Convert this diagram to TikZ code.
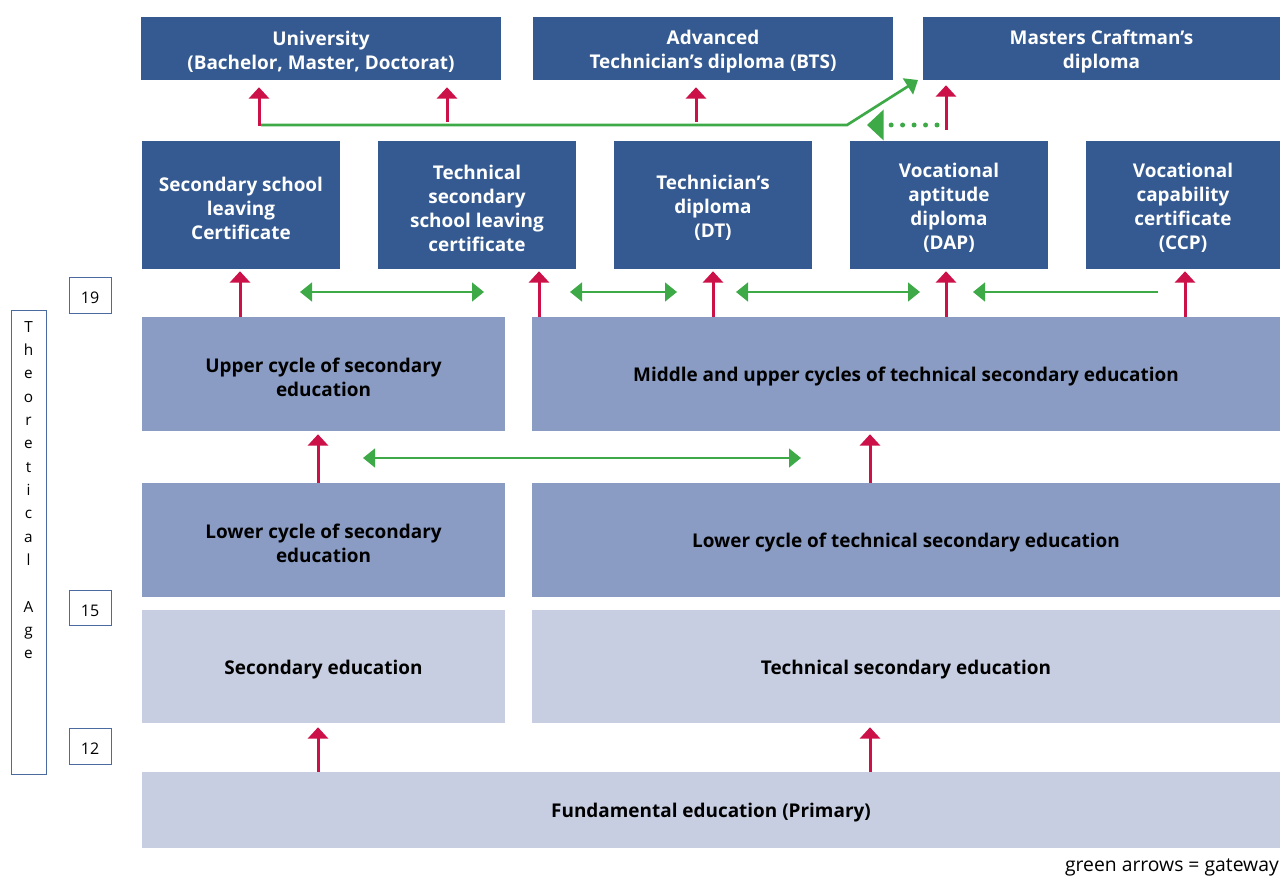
\documentclass[tikz,border=0pt]{standalone}
\usepackage{fontspec}
\setmainfont{Open Sans}
\usetikzlibrary{arrows.meta}
\definecolor{dk}{HTML}{345A91}
\definecolor{md}{HTML}{8A9CC4}
\definecolor{lt}{HTML}{C8CEE2}
\definecolor{rd}{HTML}{CC1048}
\definecolor{gr}{HTML}{3DAA47}
\definecolor{edge}{HTML}{4A6AA0}
% #1 name, #2-#5 corners (px), #6 style, #7 text
\newcommand\bx[7]{\node[#6, minimum width={(#4-#2)*0.75pt}, minimum height={(#5-#3)*0.75pt}] (#1) at ({(#2+#4)/2},{(#3+#5)/2}) {};
 \node[#6 text] (#1-t) at ([yshift=-2.25pt]#1.center) {#7};}
\begin{document}
\begin{tikzpicture}[x=0.75pt,y=-0.75pt,
 base/.style={inner sep=0pt},
 dkbox/.style={base, fill=dk},
 mdbox/.style={base, fill=md},
 ltbox/.style={base, fill=lt},
 basetext/.style={inner sep=0pt, align=center, font=\bfseries\fontsize{14.2}{18}\selectfont},
 dkbox text/.style={basetext, text=white},
 mdbox text/.style={basetext},
 ltbox text/.style={basetext},
 agebox/.style={draw=edge, line width=0.75pt, inner sep=0pt},
 agebox text/.style={inner sep=0pt, font=\fontsize{12}{14}\selectfont},
 up/.style={draw=rd, line width=2.25pt, -{Triangle[width=15pt,length=8.5pt]}},
 gw/.style={draw=gr, line width=2pt, -{Triangle[width=14pt,length=9pt]}},
 gw2/.style={draw=gr, line width=2pt, {Triangle[width=14pt,length=9pt]}-{Triangle[width=14pt,length=9pt]}},
 gwdots/.style={draw=gr, line width=3.75pt, line cap=round, dash pattern=on 0pt off 8.6pt, -{Triangle[width=22.5pt,length=12.5pt]}},
]
\useasboundingbox (0,0) rectangle (1280,877);
% top row
\bx{univ}{141}{17}{501}{80}{dkbox}{University\\(Bachelor, Master, Doctorat)}
\bx{bts}{533}{17}{893}{80}{dkbox}{Advanced\\Technician’s diploma (BTS)}
\bx{mcd}{923}{17}{1280}{80}{dkbox}{Masters Craftman’s\\diploma}
% second row
\bx{ssl}{142}{141}{340}{269}{dkbox}{Secondary school\\leaving\\Certificate}
\bx{tssl}{378}{141}{576}{269}{dkbox}{Technical\\secondary\\school leaving\\certificate}
\bx{dt}{614}{141}{812}{269}{dkbox}{Technician’s\\diploma\\(DT)}
\bx{dap}{850}{141}{1048}{269}{dkbox}{Vocational\\aptitude\\diploma\\(DAP)}
\bx{ccp}{1086}{141}{1280}{269}{dkbox}{Vocational\\capability\\certificate\\(CCP)}
% cycles
\bx{ucs}{142}{317}{505}{431}{mdbox}{Upper cycle of secondary\\education}
\bx{muct}{532}{317}{1280}{431}{mdbox}{Middle and upper cycles of technical secondary education}
\bx{lcs}{142}{483}{505}{597}{mdbox}{Lower cycle of secondary\\education}
\bx{lct}{532}{483}{1280}{597}{mdbox}{Lower cycle of technical secondary education}
\bx{se}{142}{610}{505}{723}{ltbox}{Secondary education}
\bx{tse}{532}{610}{1280}{723}{ltbox}{Technical secondary education}
\bx{fe}{142}{772}{1280}{848}{ltbox}{Fundamental education (Primary)}
% ages
\bx{a19}{69}{277}{111}{313}{agebox}{19}
\bx{a15}{69}{590}{111}{625}{agebox}{15}
\bx{a12}{69}{728}{111}{764}{agebox}{12}
\node[agebox, minimum width=26.25pt, minimum height=348pt] (theo) at (28.5,542) {};
\node[anchor=north, inner sep=0pt, align=center, font=\fontsize{11.5}{17.5}\selectfont] (theotxt) at (28.5,321)
 {T\\h\\e\\o\\r\\e\\t\\i\\c\\a\\l\\[17.5pt]A\\g\\e};
\node[anchor=south east, inner sep=0pt, font=\fontsize{14.5}{16}\selectfont] (legend) at (1279,876) {green arrows = gateway};
% red arrows
\draw[up] (fe.north -| 318,0) -- ([yshift=-3pt]se.south -| 318,0);
\draw[up] (fe.north -| 870,0) -- ([yshift=-3pt]tse.south -| 870,0);
\draw[up] (lcs.north -| 318,0) -- ([yshift=-2.25pt]ucs.south -| 318,0);
\draw[up] (lct.north -| 870,0) -- ([yshift=-2.25pt]muct.south -| 870,0);
\draw[up] (ucs.north -| 240,0) -- ([yshift=-1.5pt]ssl.south -| 240,0);
\draw[up] (muct.north -| 539,0) -- ([yshift=-1.5pt]tssl.south -| 539,0);
\draw[up] (muct.north -| 713,0) -- ([yshift=-1.5pt]dt.south -| 713,0);
\draw[up] (muct.north -| 946,0) -- ([yshift=-1.5pt]dap.south -| 946,0);
\draw[up] (muct.north -| 1185,0) -- ([yshift=-1.5pt]ccp.south -| 1185,0);
% red arrows top
\coordinate (g0) at (259,126);
\coordinate (g1) at (447,122);
\coordinate (g2) at (696,122);
\coordinate (g3) at (946,130);
\draw[up] (g0) -- ([yshift=-5.25pt]univ.south -| g0);
\draw[up] (g1) -- ([yshift=-5.25pt]univ.south -| g1);
\draw[up] (g2) -- ([yshift=-5.25pt]bts.south -| g2);
\draw[up] (g3) -- ([yshift=-3.75pt]mcd.south -| g3);
% green gateways
\coordinate (gl) at (261,125);
\coordinate (gk) at (847,125);
\coordinate (gt) at (918,80);
\draw[gw] (gl) -- (gk) -- (gt);
\draw[gwdots] (937,125) -- (867,125);
\draw[gw2] (300,292) -- (484,292);
\draw[gw2] (570,292) -- (677,292);
\draw[gw2] (736,292) -- (920,292);
\draw[gw] (1158,292) -- (973,292);
\draw[gw2] (363,458) -- (801,458);
\end{tikzpicture}
\end{document}
